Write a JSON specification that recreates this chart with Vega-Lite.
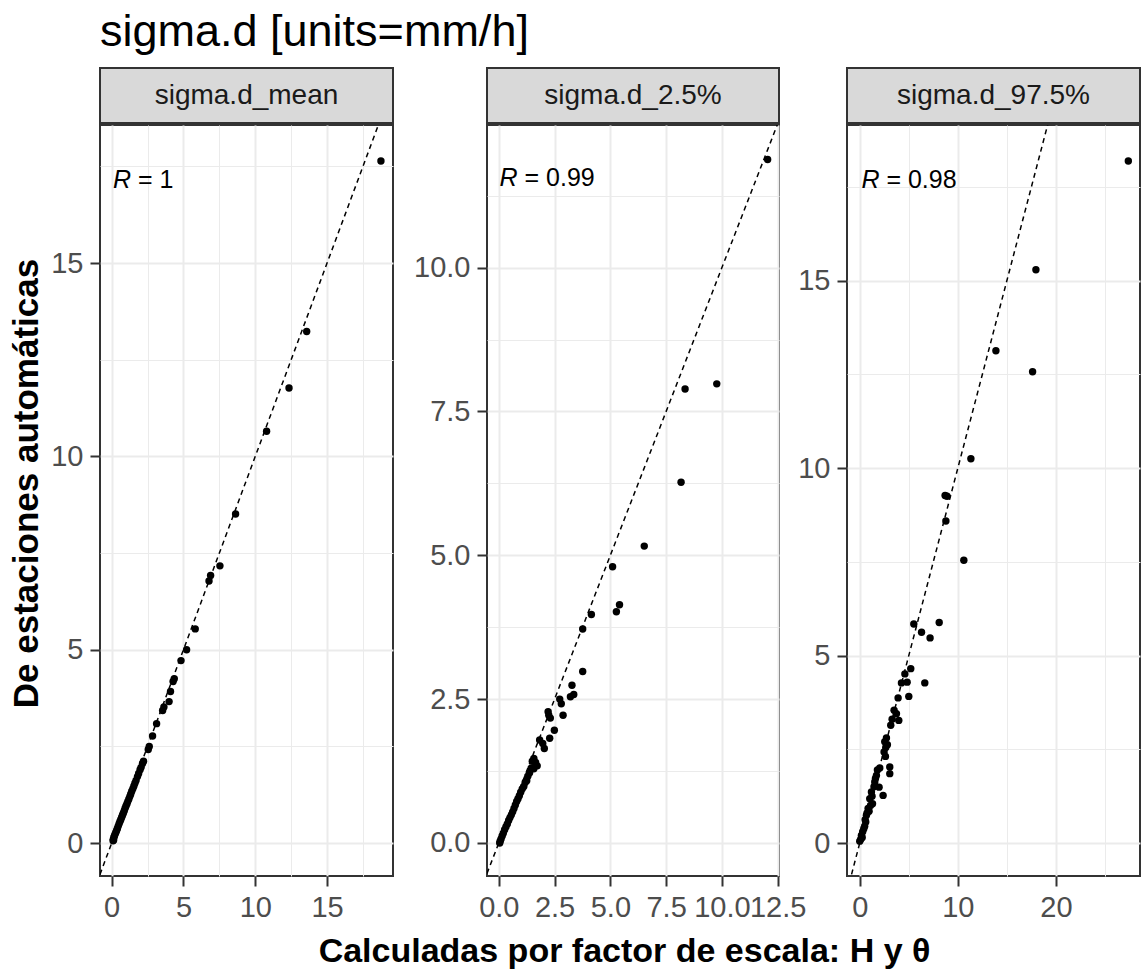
{
  "$schema": "https://vega.github.io/schema/vega-lite/v6.json",
  "padding": {"left": 7, "top": 10, "right": 0, "bottom": 4},
  "background": "white",
  "config": {
    "font": "Liberation Sans",
    "view": {"stroke": "#333333", "strokeWidth": 2},
    "axis": {
      "domain": false,
      "labelFont": "Liberation Sans",
      "labelFontSize": 29,
      "labelColor": "#4D4D4D",
      "labelPadding": 7,
      "labelOverlap": false,
      "labelFlush": false,
      "tickColor": "#333333",
      "tickWidth": 2,
      "tickSize": 10,
      "gridColor": "#EBEBEB"
    }
  },
  "datasets": {
    "p_mean": [
      {"x": 18.75, "y": 17.64}, {"x": 13.58, "y": 13.23}, {"x": 12.35, "y": 11.77}, {"x": 10.79, "y": 10.65},
      {"x": 8.63, "y": 8.51}, {"x": 7.54, "y": 7.17}, {"x": 6.89, "y": 6.92}, {"x": 6.78, "y": 6.78},
      {"x": 5.82, "y": 5.54}, {"x": 5.22, "y": 5.0}, {"x": 4.83, "y": 4.72}, {"x": 4.36, "y": 4.25},
      {"x": 4.28, "y": 4.18}, {"x": 4.1, "y": 3.92}, {"x": 4.0, "y": 3.66}, {"x": 3.64, "y": 3.52},
      {"x": 3.55, "y": 3.43}, {"x": 3.13, "y": 3.09}, {"x": 2.85, "y": 2.77}, {"x": 2.62, "y": 2.5},
      {"x": 2.55, "y": 2.42}, {"x": 2.22, "y": 2.12}, {"x": 2.15, "y": 2.06}, {"x": 2.05, "y": 1.96},
      {"x": 1.98, "y": 1.9}, {"x": 1.88, "y": 1.8}, {"x": 1.8, "y": 1.72}, {"x": 1.7, "y": 1.62},
      {"x": 1.62, "y": 1.55}, {"x": 1.55, "y": 1.48}, {"x": 1.48, "y": 1.41}, {"x": 1.4, "y": 1.34},
      {"x": 1.33, "y": 1.27}, {"x": 1.27, "y": 1.21}, {"x": 1.2, "y": 1.14}, {"x": 1.13, "y": 1.08},
      {"x": 1.07, "y": 1.02}, {"x": 1.0, "y": 0.96}, {"x": 0.94, "y": 0.9}, {"x": 0.88, "y": 0.84},
      {"x": 0.82, "y": 0.78}, {"x": 0.76, "y": 0.73}, {"x": 0.7, "y": 0.67}, {"x": 0.64, "y": 0.61},
      {"x": 0.58, "y": 0.56}, {"x": 0.52, "y": 0.5}, {"x": 0.46, "y": 0.44}, {"x": 0.4, "y": 0.38},
      {"x": 0.35, "y": 0.33}, {"x": 0.3, "y": 0.28}, {"x": 0.25, "y": 0.24}, {"x": 0.2, "y": 0.19},
      {"x": 0.16, "y": 0.15}, {"x": 0.12, "y": 0.1}, {"x": 0.1, "y": 0.06}, {"x": 0.14, "y": 0.08}
    ],
    "p_lo": [
      {"x": 12.05, "y": 11.88}, {"x": 8.35, "y": 7.89}, {"x": 9.77, "y": 7.98}, {"x": 8.17, "y": 6.27},
      {"x": 6.52, "y": 5.16}, {"x": 5.1, "y": 4.8}, {"x": 5.41, "y": 4.14}, {"x": 5.27, "y": 4.02},
      {"x": 4.15, "y": 3.97}, {"x": 3.76, "y": 3.72}, {"x": 3.76, "y": 2.98}, {"x": 3.28, "y": 2.74},
      {"x": 3.36, "y": 2.58}, {"x": 3.21, "y": 2.54}, {"x": 2.73, "y": 2.5}, {"x": 2.8, "y": 2.42},
      {"x": 2.88, "y": 2.22}, {"x": 2.24, "y": 2.22}, {"x": 2.31, "y": 2.17}, {"x": 2.21, "y": 2.28},
      {"x": 2.49, "y": 1.96}, {"x": 2.28, "y": 1.82}, {"x": 1.83, "y": 1.79}, {"x": 2.04, "y": 1.64},
      {"x": 1.97, "y": 1.73}, {"x": 1.57, "y": 1.47}, {"x": 1.72, "y": 1.34}, {"x": 1.57, "y": 1.29},
      {"x": 1.65, "y": 1.4}, {"x": 1.5, "y": 1.42}, {"x": 1.45, "y": 1.3}, {"x": 1.38, "y": 1.22},
      {"x": 1.3, "y": 1.16}, {"x": 1.25, "y": 1.08}, {"x": 1.18, "y": 1.05}, {"x": 1.12, "y": 0.98},
      {"x": 1.05, "y": 0.94}, {"x": 0.98, "y": 0.88}, {"x": 0.92, "y": 0.82}, {"x": 0.86, "y": 0.77},
      {"x": 0.8, "y": 0.72}, {"x": 0.74, "y": 0.66}, {"x": 0.68, "y": 0.6}, {"x": 0.62, "y": 0.54},
      {"x": 0.56, "y": 0.49}, {"x": 0.5, "y": 0.44}, {"x": 0.44, "y": 0.39}, {"x": 0.38, "y": 0.33},
      {"x": 0.32, "y": 0.28}, {"x": 0.26, "y": 0.23}, {"x": 0.2, "y": 0.17}, {"x": 0.15, "y": 0.12},
      {"x": 0.1, "y": 0.07}, {"x": 0.06, "y": 0.03}, {"x": 0.04, "y": 0.0}
    ],
    "p_hi": [
      {"x": 27.38, "y": 18.19}, {"x": 17.96, "y": 15.29}, {"x": 13.88, "y": 13.13}, {"x": 17.62, "y": 12.57},
      {"x": 11.33, "y": 10.25}, {"x": 8.7, "y": 9.27}, {"x": 8.9, "y": 9.25}, {"x": 8.78, "y": 8.59},
      {"x": 10.61, "y": 7.54}, {"x": 5.51, "y": 5.84}, {"x": 8.1, "y": 5.88}, {"x": 6.3, "y": 5.62},
      {"x": 7.17, "y": 5.47}, {"x": 6.63, "y": 4.27}, {"x": 5.2, "y": 4.65}, {"x": 4.6, "y": 4.51},
      {"x": 4.83, "y": 4.29}, {"x": 4.25, "y": 4.27}, {"x": 5.0, "y": 3.91}, {"x": 3.91, "y": 3.87},
      {"x": 3.5, "y": 3.54}, {"x": 3.74, "y": 3.45}, {"x": 3.98, "y": 3.27}, {"x": 3.16, "y": 3.14},
      {"x": 2.72, "y": 2.8}, {"x": 2.82, "y": 2.62}, {"x": 2.48, "y": 2.43}, {"x": 2.62, "y": 2.31},
      {"x": 2.04, "y": 2.0}, {"x": 3.06, "y": 2.03}, {"x": 3.06, "y": 1.85}, {"x": 1.7, "y": 1.8},
      {"x": 1.53, "y": 1.63}, {"x": 1.97, "y": 1.49}, {"x": 2.38, "y": 1.27}, {"x": 1.19, "y": 1.36},
      {"x": 1.02, "y": 1.18}, {"x": 1.3, "y": 1.05}, {"x": 0.85, "y": 0.92}, {"x": 0.68, "y": 0.74},
      {"x": 0.61, "y": 0.56}, {"x": 0.41, "y": 0.38}, {"x": 0.17, "y": 0.2}, {"x": 0.0, "y": 0.05},
      {"x": 1.8, "y": 1.95}, {"x": 1.6, "y": 1.72}, {"x": 1.45, "y": 1.5}, {"x": 1.25, "y": 1.25},
      {"x": 1.1, "y": 1.0}, {"x": 0.95, "y": 0.85}, {"x": 0.75, "y": 0.8}, {"x": 0.55, "y": 0.62},
      {"x": 0.5, "y": 0.45}, {"x": 0.3, "y": 0.3}, {"x": 0.25, "y": 0.15}, {"x": 0.1, "y": 0.1},
      {"x": 2.65, "y": 2.55}, {"x": 2.55, "y": 2.7}, {"x": 3.3, "y": 3.3}
    ]
  },
  "title": {
    "text": "sigma.d [units=mm/h]",
    "anchor": "start",
    "frame": "group",
    "fontSize": 45,
    "fontWeight": "normal",
    "font": "Liberation Sans",
    "color": "black",
    "offset": 12
  },
  "spacing": 0,
  "vconcat": [
    {
      "bounds": "flush",
      "spacing": 0,
      "hconcat": [
        {
          "width": 293, "height": 55,
          "view": {"fill": "#D9D9D9", "stroke": "#333333", "strokeWidth": 2},
          "data": {"values": [{"s": "sigma.d_mean"}]},
          "mark": {"type": "text", "fontSize": 28, "color": "#1A1A1A", "font": "Liberation Sans", "baseline": "middle", "align": "center"},
          "encoding": {"text": {"field": "s"}}
        },
        {"width": 94, "height": 1, "view": {"stroke": null}, "data": {"values": []}, "mark": "point"},
        {
          "width": 292, "height": 55,
          "view": {"fill": "#D9D9D9", "stroke": "#333333", "strokeWidth": 2},
          "data": {"values": [{"s": "sigma.d_2.5%"}]},
          "mark": {"type": "text", "fontSize": 28, "color": "#1A1A1A", "font": "Liberation Sans", "baseline": "middle", "align": "center"},
          "encoding": {"text": {"field": "s"}}
        },
        {"width": 68, "height": 1, "view": {"stroke": null}, "data": {"values": []}, "mark": "point"},
        {
          "width": 293, "height": 55,
          "view": {"fill": "#D9D9D9", "stroke": "#333333", "strokeWidth": 2},
          "data": {"values": [{"s": "sigma.d_97.5%"}]},
          "mark": {"type": "text", "fontSize": 28, "color": "#1A1A1A", "font": "Liberation Sans", "baseline": "middle", "align": "center"},
          "encoding": {"text": {"field": "s"}}
        }
      ]
    },
    {
      "title": {
        "text": "Calculadas por factor de escala: H y θ",
        "orient": "bottom",
        "anchor": "middle",
        "frame": "bounds",
        "fontSize": 34,
        "fontWeight": "bold",
        "font": "Liberation Sans",
        "color": "black",
        "offset": 12,
        "dx": 50
      },
      "bounds": "flush",
      "spacing": 0,
      "hconcat": [
        {
          "width": 293, "height": 751,
          "layer": [
            {
              "data": {"name": "p_mean"},
              "mark": {"type": "circle", "size": 55, "color": "black", "opacity": 1},
              "encoding": {
                "x": {"field": "x", "type": "quantitative",
                  "scale": {"domain": [-0.81, 19.59], "nice": false, "zero": false},
                  "axis": {"title": null, "values": [0, 2.5, 5, 7.5, 10, 12.5, 15, 17.5],
                    "labelExpr": "datum.value % 5 === 0 ? format(datum.value, 'd') : ''",
                    "gridWidth": {"condition": {"test": "datum.value % 5 === 0", "value": 2}, "value": 1},
                    "tickOpacity": {"condition": {"test": "datum.value % 5 === 0", "value": 1}, "value": 0}}},
                "y": {"field": "y", "type": "quantitative",
                  "scale": {"domain": [-0.85, 18.57], "nice": false, "zero": false},
                  "axis": {"title": "De estaciones automáticas",
                    "titleFontSize": 35, "titleFontWeight": "bold", "titleColor": "black", "titleFont": "Liberation Sans",
                    "titleAngle": 270, "titleAlign": "center", "titleBaseline": "alphabetic", "titleX": -63, "titleY": 358,
                    "values": [0, 2.5, 5, 7.5, 10, 12.5, 15, 17.5],
                    "labelExpr": "datum.value % 5 === 0 ? format(datum.value, 'd') : ''",
                    "gridWidth": {"condition": {"test": "datum.value % 5 === 0", "value": 2}, "value": 1},
                    "tickOpacity": {"condition": {"test": "datum.value % 5 === 0", "value": 1}, "value": 0}}}
              }
            },
            {
              "data": {"values": [{"x": -0.81, "y": -0.81}, {"x": 19.59, "y": 19.59}]},
              "mark": {"type": "line", "color": "black", "strokeWidth": 1.5, "strokeDash": [5, 4], "clip": true},
              "encoding": {"x": {"field": "x", "type": "quantitative"}, "y": {"field": "y", "type": "quantitative"}}
            },
            {
              "data": {"values": [{"x": 0.1, "y": 17.15, "r": "R", "v": "= 1"}]},
              "layer": [
                {"mark": {"type": "text", "fontSize": 25, "fontStyle": "italic", "align": "left", "baseline": "middle", "color": "black"},
                 "encoding": {"x": {"field": "x", "type": "quantitative"}, "y": {"field": "y", "type": "quantitative"}, "text": {"field": "r"}}},
                {"mark": {"type": "text", "fontSize": 25, "align": "left", "baseline": "middle", "color": "black", "dx": 25},
                 "encoding": {"x": {"field": "x", "type": "quantitative"}, "y": {"field": "y", "type": "quantitative"}, "text": {"field": "v"}}}
              ]
            }
          ]
        },
        {"width": 94, "height": 1, "view": {"stroke": null}, "data": {"values": []}, "mark": "point"},
        {
          "width": 292, "height": 751,
          "layer": [
            {
              "data": {"name": "p_lo"},
              "mark": {"type": "circle", "size": 55, "color": "black", "opacity": 1},
              "encoding": {
                "x": {"field": "x", "type": "quantitative",
                  "scale": {"domain": [-0.53, 12.56], "nice": false, "zero": false},
                  "axis": {"title": null, "values": [0, 1.25, 2.5, 3.75, 5, 6.25, 7.5, 8.75, 10, 11.25, 12.5],
                    "labelExpr": "datum.value % 2.5 === 0 ? format(datum.value, '.1f') : ''",
                    "gridWidth": {"condition": {"test": "datum.value % 2.5 === 0", "value": 2}, "value": 1},
                    "tickOpacity": {"condition": {"test": "datum.value % 2.5 === 0", "value": 1}, "value": 0}}},
                "y": {"field": "y", "type": "quantitative",
                  "scale": {"domain": [-0.575, 12.48], "nice": false, "zero": false},
                  "axis": {"title": null, "values": [0, 1.25, 2.5, 3.75, 5, 6.25, 7.5, 8.75, 10, 11.25],
                    "labelExpr": "datum.value % 2.5 === 0 ? format(datum.value, '.1f') : ''",
                    "gridWidth": {"condition": {"test": "datum.value % 2.5 === 0", "value": 2}, "value": 1},
                    "tickOpacity": {"condition": {"test": "datum.value % 2.5 === 0", "value": 1}, "value": 0}}}
              }
            },
            {
              "data": {"values": [{"x": -0.53, "y": -0.53}, {"x": 12.56, "y": 12.56}]},
              "mark": {"type": "line", "color": "black", "strokeWidth": 1.5, "strokeDash": [5, 4], "clip": true},
              "encoding": {"x": {"field": "x", "type": "quantitative"}, "y": {"field": "y", "type": "quantitative"}}
            },
            {
              "data": {"values": [{"x": 0.03, "y": 11.55, "r": "R", "v": "= 0.99"}]},
              "layer": [
                {"mark": {"type": "text", "fontSize": 25, "fontStyle": "italic", "align": "left", "baseline": "middle", "color": "black"},
                 "encoding": {"x": {"field": "x", "type": "quantitative"}, "y": {"field": "y", "type": "quantitative"}, "text": {"field": "r"}}},
                {"mark": {"type": "text", "fontSize": 25, "align": "left", "baseline": "middle", "color": "black", "dx": 25},
                 "encoding": {"x": {"field": "x", "type": "quantitative"}, "y": {"field": "y", "type": "quantitative"}, "text": {"field": "v"}}}
              ]
            }
          ]
        },
        {"width": 68, "height": 1, "view": {"stroke": null}, "data": {"values": []}, "mark": "point"},
        {
          "width": 293, "height": 751,
          "layer": [
            {
              "data": {"name": "p_hi"},
              "mark": {"type": "circle", "size": 55, "color": "black", "opacity": 1},
              "encoding": {
                "x": {"field": "x", "type": "quantitative",
                  "scale": {"domain": [-1.3, 28.57], "nice": false, "zero": false},
                  "axis": {"title": null, "values": [0, 5, 10, 15, 20, 25],
                    "labelExpr": "datum.value % 10 === 0 ? format(datum.value, 'd') : ''",
                    "gridWidth": {"condition": {"test": "datum.value % 10 === 0", "value": 2}, "value": 1},
                    "tickOpacity": {"condition": {"test": "datum.value % 10 === 0", "value": 1}, "value": 0}}},
                "y": {"field": "y", "type": "quantitative",
                  "scale": {"domain": [-0.88, 19.15], "nice": false, "zero": false},
                  "axis": {"title": null, "values": [0, 2.5, 5, 7.5, 10, 12.5, 15, 17.5],
                    "labelExpr": "datum.value % 5 === 0 ? format(datum.value, 'd') : ''",
                    "gridWidth": {"condition": {"test": "datum.value % 5 === 0", "value": 2}, "value": 1},
                    "tickOpacity": {"condition": {"test": "datum.value % 5 === 0", "value": 1}, "value": 0}}}
              }
            },
            {
              "data": {"values": [{"x": -1.3, "y": -1.3}, {"x": 28.57, "y": 28.57}]},
              "mark": {"type": "line", "color": "black", "strokeWidth": 1.5, "strokeDash": [5, 4], "clip": true},
              "encoding": {"x": {"field": "x", "type": "quantitative"}, "y": {"field": "y", "type": "quantitative"}}
            },
            {
              "data": {"values": [{"x": 0.17, "y": 17.68, "r": "R", "v": "= 0.98"}]},
              "layer": [
                {"mark": {"type": "text", "fontSize": 25, "fontStyle": "italic", "align": "left", "baseline": "middle", "color": "black"},
                 "encoding": {"x": {"field": "x", "type": "quantitative"}, "y": {"field": "y", "type": "quantitative"}, "text": {"field": "r"}}},
                {"mark": {"type": "text", "fontSize": 25, "align": "left", "baseline": "middle", "color": "black", "dx": 25},
                 "encoding": {"x": {"field": "x", "type": "quantitative"}, "y": {"field": "y", "type": "quantitative"}, "text": {"field": "v"}}}
              ]
            }
          ]
        }
      ]
    }
  ]
}
